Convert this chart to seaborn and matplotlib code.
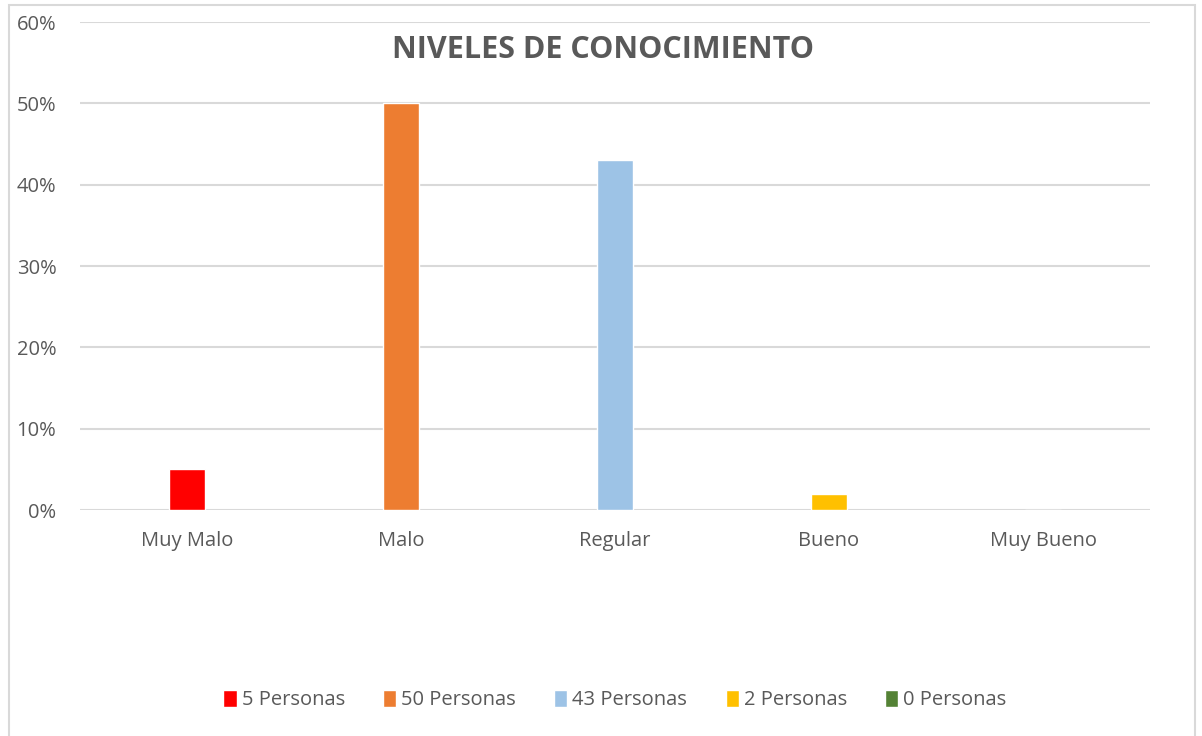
import matplotlib
matplotlib.use("Agg")
import matplotlib.pyplot as plt
import seaborn as sns
import pandas as pd
from matplotlib.patches import Rectangle

categories = ["Muy Malo", "Malo", "Regular", "Bueno", "Muy Bueno"]
values = [5, 50, 43, 2, 0]
series = ["5 Personas", "50 Personas", "43 Personas", "2 Personas", "0 Personas"]
colors = ["#FF0000", "#ED7D31", "#9DC3E6", "#FFC000", "#548235"]
yticks = [0, 10, 20, 30, 40, 50, 60]

sns.set_style("white")
plt.rcParams["font.family"] = ["Open Sans", "DejaVu Sans"]

df = pd.DataFrame({"cat": categories, "val": values, "serie": series})

fig = plt.figure(figsize=(12.02, 7.36), dpi=100)
ax = fig.add_axes([80/1202, 1-510/736, (1150-80)/1202, (510-22)/736])

sns.barplot(data=df, x="cat", y="val", hue="serie", hue_order=series,
            palette=colors, dodge=False, width=0.17, ax=ax, saturation=1,
            legend=True)

ax.set_ylim(0, 60)
ax.set_xlim(-0.5, 4.5)
ax.set_yticks(yticks)
ax.set_yticklabels([f"{t}%" for t in yticks])
ax.yaxis.grid(True, color="#D9D9D9", linewidth=1.5)
ax.set_axisbelow(True)
for s in ax.spines.values():
    s.set_visible(False)
ax.tick_params(axis="both", length=0, labelsize=14.5, colors="#595959")
ax.tick_params(axis="x", pad=15)
ax.tick_params(axis="y", pad=17)
ax.set_xlabel("")
ax.set_ylabel("")

leg = ax.legend(loc="center", bbox_to_anchor=(0.5, 1-(700-22)/488), ncol=5,
                frameon=False, fontsize=14.5, handlelength=0.65, handleheight=0.95,
                columnspacing=1.9, handletextpad=0.25)
for t in leg.get_texts():
    t.set_color("#595959")

fig.text(603/1202, 1-50/736, "NIVELES DE CONOCIMIENTO", ha="center", va="center",
         fontsize=22, fontweight="bold", color="#595959")

fig.patches.append(Rectangle((9/1202, -0.05), (1195-9)/1202, 1.05-5/736,
                             transform=fig.transFigure, fill=False,
                             edgecolor="#D9D9D9", linewidth=1.5))

fig.savefig("out.png", dpi=100)
